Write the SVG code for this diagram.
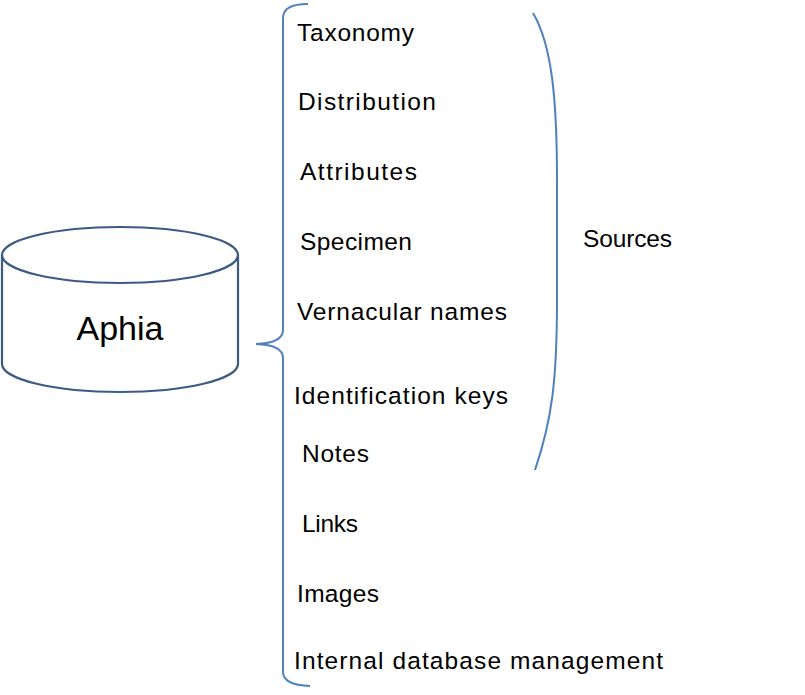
<svg xmlns="http://www.w3.org/2000/svg" width="805" height="695" viewBox="0 0 805 695">
<style>
.lbl{font-family:"Liberation Sans",Arial,sans-serif;font-size:24.5px;fill:#000}
.brace{fill:none;stroke:#4f81bd;stroke-width:2}
.cyl{fill:#fff;stroke:#3b5a85;stroke-width:2.2}
</style>
<rect width="805" height="695" fill="#fff"/>
<g id="aphia">
<path class="cyl" d="M2,255 L2,364 A118,28 0 0 0 238,364 L238,255"/>
<ellipse class="cyl" cx="120" cy="255" rx="118" ry="28"/>
<text class="lbl" x="120" y="340" text-anchor="middle" style="font-size:34px">Aphia</text>
</g>
<g id="connectors">
<path class="brace" d="M308,4 Q283,4 283,18 L283,330 Q283,343 256,344 Q283,345 283,358 L283,672 Q283,685 310,686"/>
<path class="brace" d="M533,13 C552,45 557,100 557,180 L557,300 C557,380 552,420 535,470"/>
</g>
<g id="items">
<text class="lbl" x="297" y="41" textLength="117" lengthAdjust="spacing">Taxonomy</text>
<text class="lbl" x="298" y="110" textLength="138" lengthAdjust="spacing">Distribution</text>
<text class="lbl" x="300" y="180" textLength="117" lengthAdjust="spacing">Attributes</text>
<text class="lbl" x="300" y="250" textLength="112" lengthAdjust="spacing">Specimen</text>
<text class="lbl" x="297" y="320" textLength="210" lengthAdjust="spacing">Vernacular names</text>
<text class="lbl" x="294" y="404" textLength="214" lengthAdjust="spacing">Identification keys</text>
<text class="lbl" x="302" y="462" textLength="67" lengthAdjust="spacing">Notes</text>
<text class="lbl" x="302" y="532" textLength="56" lengthAdjust="spacing">Links</text>
<text class="lbl" x="297" y="602" textLength="82" lengthAdjust="spacing">Images</text>
<text class="lbl" x="294" y="669" textLength="369" lengthAdjust="spacing">Internal database management</text>
</g>
<g id="sources">
<text class="lbl" x="583" y="247" textLength="89" lengthAdjust="spacing">Sources</text>
</g>
</svg>
